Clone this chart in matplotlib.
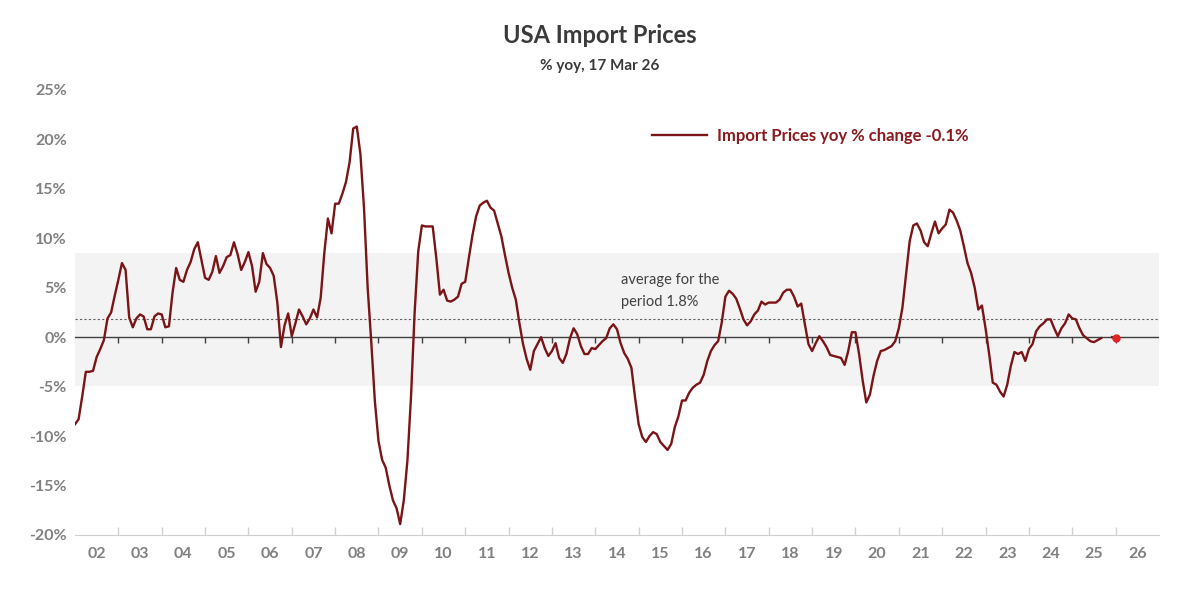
import numpy as np
import matplotlib.pyplot as plt

plt.rcParams['font.family'] = ['Lato', 'DejaVu Sans']

# monthly yoy % change, Jan 2002 .. Jan 2026 (Oct/Nov 2025 missing)
y2002 = [-8.8, -8.3, -6.0, -3.5, -3.5, -3.4, -2.0, -1.2, -0.3, 1.9, 2.5, 4.2]
y2003 = [5.8, 7.5, 6.8, 2.0, 1.0, 1.9, 2.3, 2.1, 0.8, 0.8, 2.1, 2.4]
y2004 = [2.3, 1.0, 1.1, 4.5, 7.0, 5.8, 5.6, 6.8, 7.6, 8.9, 9.6, 7.8]
y2005 = [6.0, 5.8, 6.6, 8.2, 6.5, 7.2, 8.1, 8.3, 9.6, 8.4, 6.8, 7.6]
y2006 = [8.6, 7.2, 4.6, 5.6, 8.5, 7.4, 7.0, 6.2, 3.5, -1.0, 1.2, 2.4]
y2007 = [0.1, 1.4, 2.8, 2.1, 1.3, 1.9, 2.8, 2.0, 4.0, 8.5, 12.0, 10.5]
y2008 = [13.5, 13.5, 14.5, 15.7, 17.7, 21.1, 21.3, 18.5, 13.0, 5.0, -0.5, -6.5]
y2009 = [-10.5, -12.4, -13.2, -15.0, -16.5, -17.3, -18.9, -16.5, -12.5, -6.0, 2.5, 8.7]
y2010 = [11.3, 11.2, 11.2, 11.2, 8.0, 4.3, 4.8, 3.7, 3.6, 3.8, 4.1, 5.4]
y2011 = [5.6, 8.0, 10.3, 12.2, 13.3, 13.6, 13.8, 13.1, 12.8, 11.5, 10.2, 8.3]
y2012 = [6.5, 5.0, 3.8, 1.4, -0.7, -2.2, -3.3, -1.4, -0.7, 0.0, -1.1, -1.9]
y2013 = [-1.4, -0.6, -2.1, -2.6, -1.7, -0.1, 0.9, 0.3, -0.9, -1.7, -1.7, -1.1]
y2014 = [-1.2, -0.8, -0.4, -0.1, 0.9, 1.3, 0.8, -0.6, -1.6, -2.2, -3.1, -6.1]
y2015 = [-8.8, -10.1, -10.6, -10.0, -9.6, -9.8, -10.6, -11.0, -11.4, -10.8, -9.1, -8.0]
y2016 = [-6.4, -6.4, -5.6, -5.1, -4.8, -4.6, -3.8, -2.4, -1.4, -0.8, -0.4, 1.5]
y2017 = [4.1, 4.7, 4.4, 3.9, 2.9, 1.8, 1.2, 1.6, 2.3, 2.7, 3.6, 3.3]
y2018 = [3.5, 3.5, 3.5, 3.8, 4.5, 4.8, 4.8, 4.1, 3.1, 3.4, 1.3, -0.7]
y2019 = [-1.4, -0.6, 0.1, -0.4, -1.0, -1.8, -1.9, -2.0, -2.1, -2.8, -1.4, 0.5]
y2020 = [0.5, -1.7, -4.4, -6.6, -5.8, -3.9, -2.4, -1.4, -1.3, -1.1, -0.9, -0.4]
y2021 = [0.9, 3.0, 6.3, 9.7, 11.3, 11.5, 10.8, 9.6, 9.2, 10.5, 11.7, 10.5]
y2022 = [11.0, 11.4, 12.9, 12.6, 11.8, 10.8, 9.2, 7.5, 6.5, 5.0, 2.8, 3.2]
y2023 = [0.9, -1.7, -4.6, -4.8, -5.5, -6.0, -4.8, -2.9, -1.5, -1.7, -1.5, -2.4]
y2024 = [-1.2, -0.7, 0.6, 1.1, 1.4, 1.8, 1.8, 0.9, 0.1, 0.9, 1.4, 2.3]
y2025 = [1.9, 1.8, 0.9, 0.2, -0.1, -0.4, -0.5, -0.3, -0.1, np.nan, np.nan, 0.0]
y2026 = [-0.1]

years = list(range(2002, 2027))
year_labels = [f"{y % 100:02d}" for y in years]
avg = 1.8
band_lo, band_hi = -4.9, 8.5
latest = -0.1

vals = np.array(y2002 + y2003 + y2004 + y2005 + y2006 + y2007 + y2008 + y2009
                + y2010 + y2011 + y2012 + y2013 + y2014 + y2015 + y2016 + y2017
                + y2018 + y2019 + y2020 + y2021 + y2022 + y2023 + y2024 + y2025
                + y2026)
x = np.arange(len(vals))

line_col = '#7b1417'
grey = '#808080'

fig = plt.figure(figsize=(11.92, 5.97), dpi=100)
ax = fig.add_axes([0.0629, 0.1039, 0.9094, 0.7454])

ax.axhspan(band_lo, band_hi, color='#f3f3f3', lw=0, zorder=0)
ax.axhline(avg, color='#606060', lw=0.8, ls=(0, (2, 2)), zorder=1)
ax.axhline(0, color='#404040', lw=1.0, zorder=1)
bounds = np.arange(12, 12 * len(years), 12)
ax.vlines(bounds, -0.6, 0, color='#404040', lw=1.0, zorder=1)

ax.plot(x, vals, color=line_col, lw=1.7, zorder=3,
        label=f'Import Prices yoy % change {latest}%')
ax.plot(x[-1], vals[-1], 'o', color='#e02424', ms=5, zorder=4)

ax.set_xlim(0, 12 * len(years))
ax.set_ylim(-20, 25)
ax.set_yticks(np.arange(-20, 26, 5))
ax.set_yticklabels([f'{v}%' for v in range(-20, 26, 5)])
ax.set_xticks(bounds)
ax.set_xticklabels([])
ax.set_xticks(np.arange(6, 12 * len(years), 12), minor=True)
ax.set_xticklabels(year_labels, minor=True)
ax.tick_params(axis='x', which='major', direction='in', length=6,
               color='#d0d0d0', width=1)
ax.tick_params(axis='x', which='minor', length=0, pad=9,
               labelsize=11.5, labelcolor=grey)
ax.tick_params(axis='y', length=0, pad=6, labelsize=11.5, labelcolor=grey)
for lab in ax.get_xticklabels(minor=True) + ax.get_yticklabels():
    lab.set_fontweight('bold')

for s in ['top', 'right', 'left']:
    ax.spines[s].set_visible(False)
ax.spines['bottom'].set_color('#d0d0d0')

ax.text(151, 4.7, 'average for the\nperiod 1.8%', fontsize=10.5,
        color='#404040', va='center', linespacing=1.7)

leg = ax.legend(loc='center left', bbox_to_anchor=(0.532, 0.897),
                frameon=False, borderpad=0, borderaxespad=0,
                handlelength=3.3, handletextpad=0.6, fontsize=12)
for t in leg.get_texts():
    t.set_color('#8b1a1f')
    t.set_fontweight('bold')

fig.text(0.503, 0.941, 'USA Import Prices', ha='center', va='center',
         fontsize=17, fontweight='bold', color='#3a3a3a')
fig.text(0.503, 0.889, '% yoy, 17 Mar 26', ha='center', va='center',
         fontsize=11, fontweight='bold', color='#3a3a3a')

fig.savefig('out.png', dpi=100)
